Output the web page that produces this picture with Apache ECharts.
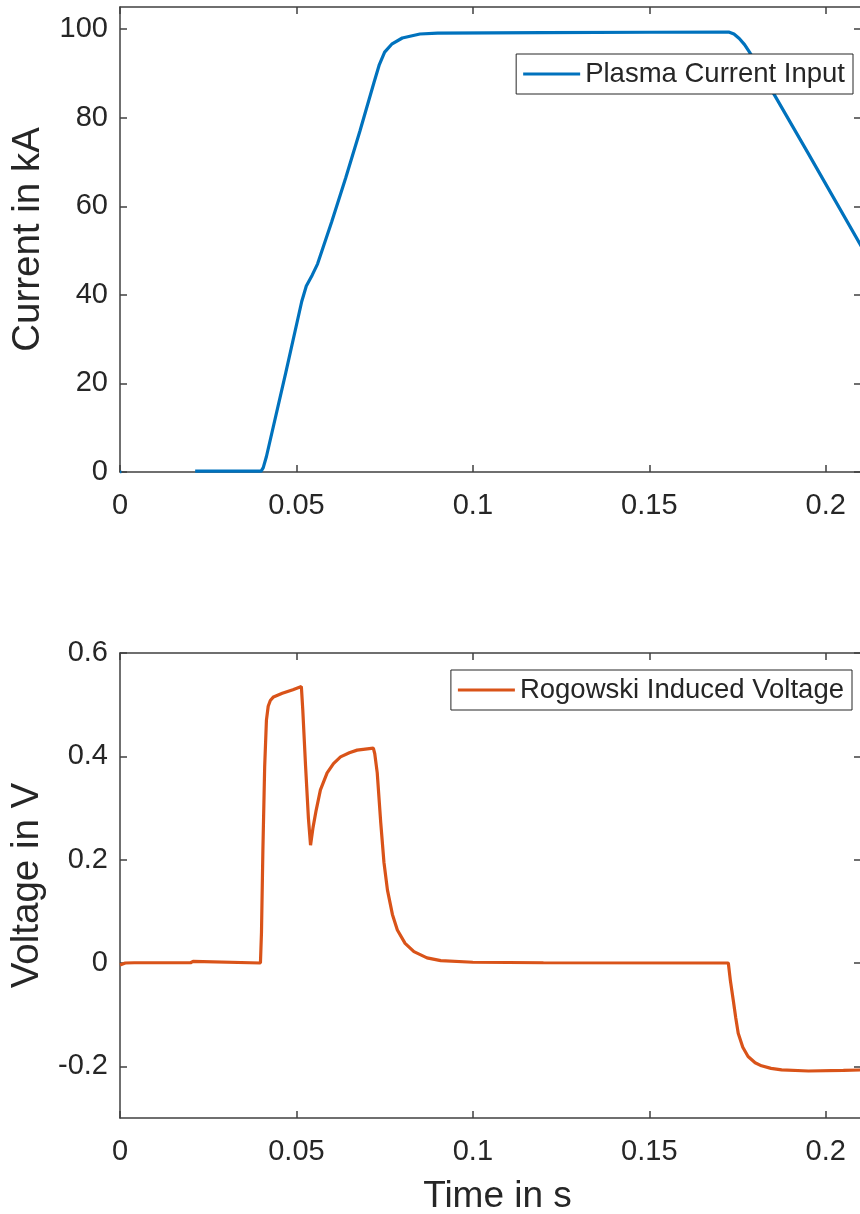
<!DOCTYPE html>
<html>
<head>
<meta charset="utf-8">
<script src="https://cdn.jsdelivr.net/npm/echarts@6/dist/echarts.min.js"></script>
<style>
  html, body { margin: 0; padding: 0; background: #fff; }
  #main { width: 860px; height: 1214px; }
</style>
</head>
<body>
<div id="main"></div>
<script>
// plasma current (kA) vs time (s)
var currentT  = [0, 0.0004, 0.01, 0.0213, 0.0400, 0.0406, 0.0415, 0.0470, 0.0515, 0.0528, 0.0545, 0.0560, 0.0600, 0.0640, 0.0680, 0.0720, 0.0735, 0.0750, 0.0770, 0.0800, 0.0850, 0.0900, 0.1200, 0.1500, 0.1725, 0.1740, 0.1755, 0.1770, 0.1784, 0.1820, 0.1855, 0.1950, 0.2105];
var currentKA = [0, 0, '-', 0.2, 0.2, 1.0, 3.5, 22.5, 38.5, 42.0, 44.5, 47.0, 56.5, 66.5, 77.0, 88.0, 92.0, 94.8, 96.6, 98.0, 98.9, 99.1, 99.2, 99.3, 99.35, 98.9, 97.9, 96.5, 94.8, 89.9, 85.1, 72.0, 50.4];

// rogowski induced voltage (V) vs time (s)
var voltageT = [0, 0.0015, 0.004, 0.0200, 0.0204, 0.0207, 0.0211, 0.0398, 0.0401, 0.0405, 0.0410, 0.0415, 0.0420, 0.0426, 0.0435, 0.046, 0.049, 0.0514, 0.0518, 0.0526, 0.0534, 0.0540, 0.0547, 0.0556, 0.0568, 0.0587, 0.0605, 0.0625, 0.0650, 0.0672, 0.0718, 0.0722, 0.0729, 0.0739, 0.0748, 0.0758, 0.0772, 0.0786, 0.0808, 0.0833, 0.0870, 0.0909, 0.100, 0.120, 0.1724, 0.1730, 0.1738, 0.1745, 0.1752, 0.1765, 0.1780, 0.1800, 0.1818, 0.1845, 0.1875, 0.1951, 0.2050, 0.2105];
var voltageV = [-0.004, 0, 0.0005, 0.0005, -0.002, 0.003, 0, 0, 0.06, 0.22, 0.38, 0.47, 0.497, 0.508, 0.515, 0.522, 0.529, 0.535, 0.49, 0.38, 0.28, 0.228, 0.262, 0.296, 0.335, 0.368, 0.386, 0.399, 0.407, 0.412, 0.416, 0.405, 0.368, 0.271, 0.195, 0.141, 0.094, 0.064, 0.038, 0.022, 0.010, 0.0045, 0.0015, 0.0005, 0, -0.035, -0.072, -0.106, -0.136, -0.163, -0.181, -0.193, -0.199, -0.204, -0.207, -0.209, -0.208, -0.207];

var timeTicks    = [0, 0.05, 0.1, 0.15, 0.2];
var currentTicks = [0, 20, 40, 60, 80, 100];
var voltageTicks = [-0.2, 0, 0.2, 0.4, 0.6];

function pairs(xs, ys) {
  return xs.map(function (x, i) { return [x, ys[i]]; });
}

var FONT = "'Liberation Sans', Arial, Helvetica, sans-serif";
var INK = '#262626';
var AXIS_LINE = { color: '#404040', width: 1.5 };

function xAx(grid, pos, labels, name) {
  return {
    type: 'value', gridIndex: grid, position: pos, min: 0, max: 0.21,
    axisLine: { show: true, onZero: false, lineStyle: AXIS_LINE },
    axisTick: { show: true, inside: true, length: 7, customValues: timeTicks, lineStyle: AXIS_LINE },
    axisLabel: { show: labels, customValues: timeTicks, margin: 19, fontSize: 29, color: INK, fontFamily: FONT },
    splitLine: { show: false },
    name: name || '', nameLocation: 'middle', nameGap: 60,
    nameTextStyle: { fontSize: 37, color: INK, fontFamily: FONT, padding: [0, 0, 0, 14] }
  };
}

function yAx(grid, pos, labels, min, max, ticks, name) {
  return {
    type: 'value', gridIndex: grid, position: pos, min: min, max: max,
    axisLine: { show: true, onZero: false, lineStyle: AXIS_LINE },
    axisTick: { show: true, inside: true, length: 7, customValues: ticks, lineStyle: AXIS_LINE },
    axisLabel: { show: labels, customValues: ticks, margin: 12, fontSize: 29, color: INK, fontFamily: FONT },
    splitLine: { show: false },
    name: name || '', nameLocation: 'middle', nameGap: 72,
    nameTextStyle: { fontSize: 38.5, color: INK, fontFamily: FONT }
  };
}

function legendBox(name, top, right) {
  return {
    data: [name], top: top, right: right, orient: 'vertical',
    icon: 'rect', itemWidth: 57, itemHeight: 3, itemGap: 0,
    padding: [6, 8, 6, 7],
    borderColor: INK, borderWidth: 1, backgroundColor: '#fff',
    textStyle: { fontSize: 27.5, color: INK, fontFamily: FONT }
  };
}

var chart = echarts.init(document.getElementById('main'), null, { renderer: 'canvas' });

chart.setOption({
  animation: false,
  backgroundColor: '#fff',
  grid: [
    { left: 120, top: 7, width: 741, height: 465, outerBoundsMode: 'none', containLabel: false },
    { left: 120, top: 653, width: 741, height: 465, outerBoundsMode: 'none', containLabel: false }
  ],
  xAxis: [
    xAx(0, 'bottom', true),
    xAx(0, 'top', false),
    xAx(1, 'bottom', true, 'Time in s'),
    xAx(1, 'top', false)
  ],
  yAxis: [
    yAx(0, 'left', true, 0, 105, currentTicks, 'Current in kA'),
    yAx(0, 'right', false, 0, 105, currentTicks),
    yAx(1, 'left', true, -0.3, 0.6, voltageTicks, 'Voltage in V'),
    yAx(1, 'right', false, -0.3, 0.6, voltageTicks)
  ],
  legend: [
    legendBox('Plasma Current Input', 54, 7),
    legendBox('Rogowski Induced Voltage', 670, 8)
  ],
  series: [
    {
      name: 'Plasma Current Input', type: 'line',
      xAxisIndex: 0, yAxisIndex: 0,
      data: pairs(currentT, currentKA),
      showSymbol: false, connectNulls: false,
      lineStyle: { color: '#0072BD', width: 3.2 },
      itemStyle: { color: '#0072BD' }
    },
    {
      name: 'Rogowski Induced Voltage', type: 'line',
      xAxisIndex: 2, yAxisIndex: 2,
      data: pairs(voltageT, voltageV),
      showSymbol: false,
      lineStyle: { color: '#D95319', width: 3.2 },
      itemStyle: { color: '#D95319' }
    }
  ]
});
</script>
</body>
</html>
